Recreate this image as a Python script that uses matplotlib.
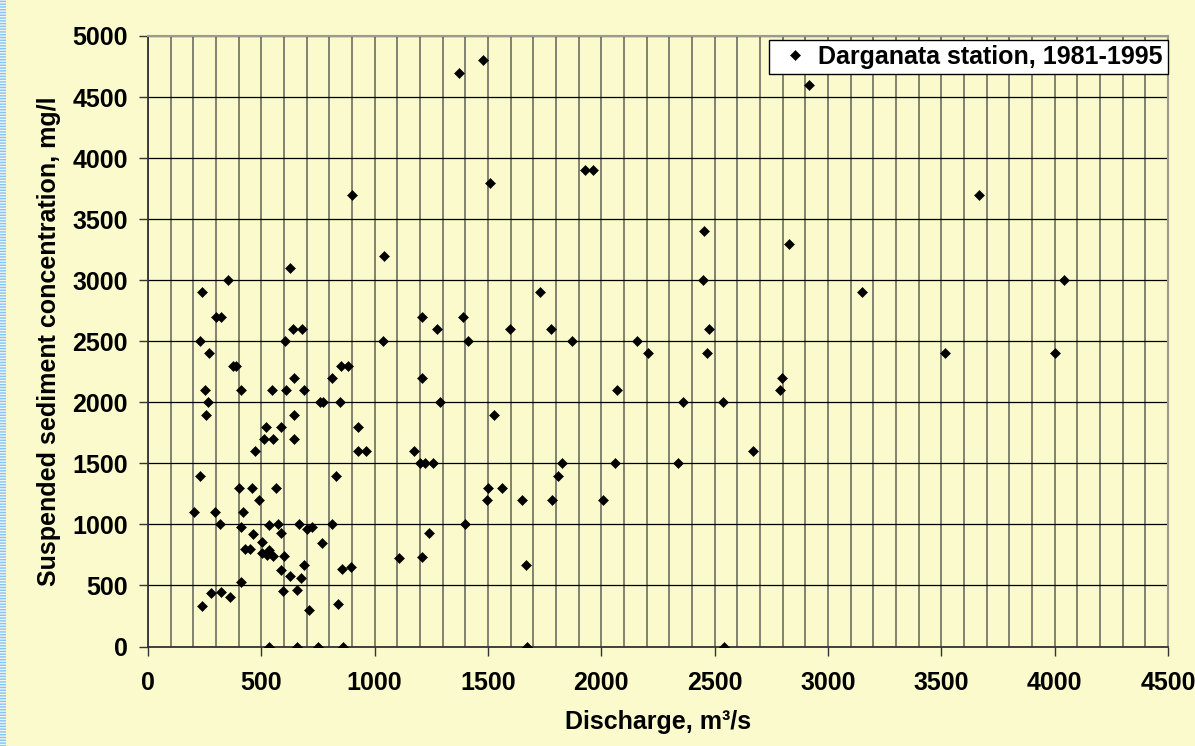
import numpy as np
import matplotlib
matplotlib.use("Agg")
import matplotlib.pyplot as plt
from matplotlib.patches import Rectangle

plt.rcParams['font.family'] = ['Liberation Sans', 'DejaVu Sans']
plt.rcParams['font.weight'] = 'bold'

# Darganata station, 1981-1995: discharge (m3/s) vs suspended sediment (mg/l)
discharge = [
    1040, 625, 355, 237, 300, 320, 640, 680, 1207, 1275, 231, 606, 1038, 269,
    375, 388, 850, 882, 645, 813, 1207, 253, 409, 547, 607, 690, 266, 757, 772,
    849, 1288, 257, 645, 522, 588, 928, 510, 551, 645, 473, 928, 963, 1175,
    1199, 1220, 1257, 228, 831, 401, 459, 565, 488, 203, 297, 421, 318, 412,
    533, 574, 665, 703, 725, 813, 585, 462, 1238, 502, 426, 449, 505, 535, 525,
    550, 600, 766, 1109, 1207, 587, 628, 675, 689, 858, 896, 409, 278, 324, 363,
    238, 597, 657, 709, 838, 534, 659, 751, 860, 898,
    1373, 1477, 1510, 1928, 1964, 2455, 2830, 2448, 1730, 1390, 1597, 1780,
    2476, 2915, 1410, 1870, 2158, 2207, 2467, 2798, 2788, 2070, 1528, 2361,
    2538, 2667, 1827, 2060, 2337, 1807, 1500, 1563, 1497, 1651, 1781, 2007,
    1398, 1669, 1672, 2541, 3664, 3148, 4040, 3516, 4000,
]
sediment = [
    3200, 3100, 3000, 2900, 2700, 2700, 2600, 2600, 2700, 2600, 2500, 2500, 2500, 2400,
    2300, 2300, 2300, 2300, 2200, 2200, 2200, 2100, 2100, 2100, 2100, 2100, 2000, 2000, 2000,
    2000, 2000, 1900, 1900, 1800, 1800, 1800, 1700, 1700, 1700, 1600, 1600, 1600, 1600,
    1500, 1500, 1500, 1400, 1400, 1300, 1300, 1300, 1200, 1100, 1100, 1100, 1000, 975,
    995, 1000, 1000, 965, 980, 1000, 926, 920, 930, 858, 800, 800, 768, 787, 750,
    740, 744, 845, 725, 736, 627, 578, 558, 667, 632, 655, 528, 436, 444, 409,
    332, 458, 466, 300, 351, 0, 0, 0, 0, 3700,
    4700, 4800, 3800, 3900, 3900, 3400, 3300, 3000, 2900, 2700, 2600, 2600,
    2600, 4600, 2500, 2500, 2500, 2400, 2400, 2200, 2100, 2100, 1900, 2000,
    2000, 1600, 1500, 1500, 1500, 1400, 1300, 1300, 1200, 1200, 1200, 1200,
    1000, 664, 0, 0, 3700, 2900, 3000, 2400, 2400,
]

x_ticks = np.arange(0, 4501, 500)
y_ticks = np.arange(0, 5001, 500)

bg = '#FAFACC'
fig = plt.figure(figsize=(11.95, 7.46), dpi=100, facecolor=bg)
ax = fig.add_axes([148 / 1195, 1 - 646.5 / 746, 1020 / 1195, 610.5 / 746])
ax.set_facecolor(bg)

# striped strip on the left edge
fig.add_artist(Rectangle((0, 0), 6 / 1195, 1, transform=fig.transFigure,
                         facecolor='#EEF4FA', edgecolor='#8CC0F0', hatch='------', lw=0))

ax.plot(discharge, sediment, linestyle='none', marker='D', ms=5.6, color='black',
        mew=0.4, label='Darganata station, 1981-1995', zorder=3)

ax.set_xlim(0, 4500)
ax.set_ylim(0, 5000)
ax.set_xticks(x_ticks)
ax.set_yticks(y_ticks)
ax.set_xticks(np.arange(0, 4501, 100), minor=True)
ax.tick_params(axis='x', which='minor', length=0)
ax.tick_params(axis='both', which='major', labelsize=18, length=6.5, width=1,
               direction='out', color='#333333')
ax.tick_params(axis='y', pad=8)
ax.tick_params(axis='x', pad=11)
for lab in ax.get_xticklabels() + ax.get_yticklabels():
    lab.set_fontweight('bold')

ax.grid(True, axis='x', which='both', color='#78786a', lw=1.3)
ax.grid(True, axis='y', which='major', color='black', lw=0.9)
ax.set_axisbelow(True)

for side in ['top', 'right']:
    ax.spines[side].set_color('#9a9a90')
    ax.spines[side].set_linewidth(1.5)
for side in ['left', 'bottom']:
    ax.spines[side].set_color('#333333')
    ax.spines[side].set_linewidth(1.3)

ax.set_xlabel('Discharge, m³/s', fontsize=18, fontweight='bold', labelpad=11)
ax.set_ylabel('Suspended sediment concentration, mg/l', fontsize=18,
              fontweight='bold', labelpad=8)

leg = ax.legend(loc='upper right', bbox_to_anchor=(1.0, 0.994), frameon=True,
                fancybox=False, framealpha=1, edgecolor='black',
                prop={'size': 18, 'weight': 'bold'}, handlelength=1.7,
                handletextpad=0.1, borderpad=0.2, borderaxespad=0)
leg.get_frame().set_linewidth(1.0)

fig.savefig('out.png', dpi=100, facecolor=bg)
